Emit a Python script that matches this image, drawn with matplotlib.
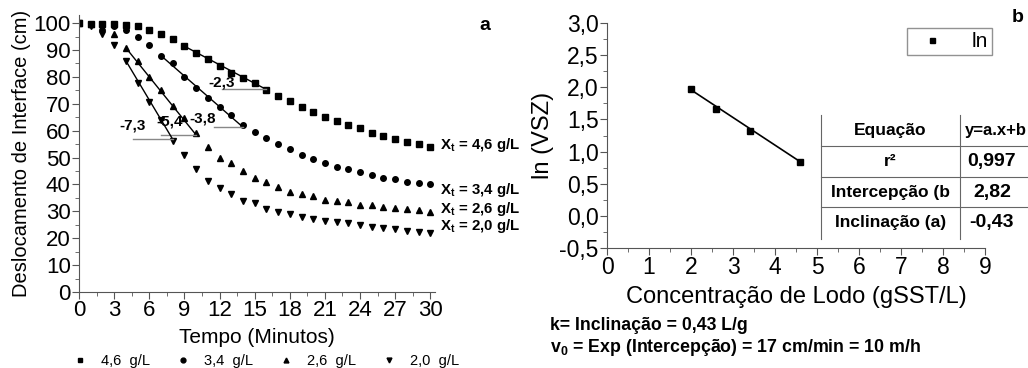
import matplotlib.pyplot as plt
from matplotlib.ticker import MultipleLocator, FixedLocator, FuncFormatter
from matplotlib.lines import Line2D

plt.rcParams['font.family'] = 'Liberation Sans'
plt.rcParams['mathtext.fontset'] = 'custom'
plt.rcParams['mathtext.rm'] = 'Liberation Sans'
plt.rcParams['mathtext.bf'] = 'Liberation Sans:bold'

# ---------------- data (a) : interface height vs time ----------------
tempo = list(range(0, 31))
x46 = [100, 99.8, 99.6, 99.6, 99.3, 98.9, 97.4, 95.8, 93.9, 91.4, 89.0, 86.5, 84.0, 81.5, 79.7, 77.6,
       75.0, 72.9, 71.0, 68.9, 67.0, 65.2, 63.4, 62.0, 61.0, 59.0, 58.0, 57.0, 55.9, 54.9, 53.9]
x34 = [100, 99.6, 99.6, 99.0, 97.6, 94.9, 92.0, 87.9, 85.3, 80.0, 76.0, 72.0, 68.7, 65.8, 62.0, 59.6,
       57.4, 55.0, 53.2, 50.9, 49.4, 48.0, 46.6, 45.6, 44.5, 43.5, 42.5, 41.9, 41.0, 40.6, 40.1]
x26 = [100, 99.5, 98.5, 95.8, 90.8, 85.9, 80.0, 75.0, 69.0, 64.6, 59.0, 54.0, 50.0, 47.8, 45.0, 42.3,
       40.8, 38.9, 37.3, 36.4, 35.8, 34.2, 33.8, 33.3, 32.3, 32.3, 31.7, 31.4, 30.9, 30.5, 29.9]
x20 = [100, 99.0, 96.0, 91.8, 86.0, 77.6, 70.8, 64.0, 56.3, 51.0, 45.6, 41.3, 38.8, 36.4, 33.9, 33.0,
       30.9, 29.9, 29.0, 28.0, 27.0, 26.4, 26.1, 25.5, 24.9, 24.3, 23.9, 23.3, 22.8, 22.4, 21.8]
series = [x46, x34, x26, x20]
legend_txt = ['4,6  g/L', '3,4  g/L', '2,6  g/L', '2,0  g/L']
end_txt = ['4,6 g/L', '3,4 g/L', '2,6 g/L', '2,0 g/L']
markers = ['s', 'o', '^', 'v']

# slope fits: start, end, slope, base start, label
fit_start = [9, 7, 4, 4]
fit_end = [16, 14, 10, 8]
fit_slope = [-2.3, -3.8, -5.4, -7.3]
base_start = [12.2, 11.5, 7.0, 4.6]
slope_txt = ['-2,3', '-3,8', '-5,4', '-7,3']

# ---------------- data (b) : ln(VSZ) vs concentration ----------------
conc = [2.0, 2.6, 3.4, 4.6]
ln_vsz = [1.98, 1.66, 1.32, 0.84]
intercept = 2.82
slope = -0.43
tab_labels = ['Equação', 'r²', 'Intercepção (b', 'Inclinação (a)']
tab_values = ['y=a.x+b', '0,997', '2,82', '-0,43']

W, H = 1028, 368
fig = plt.figure(figsize=(W / 100, H / 100), dpi=100)

def fx(px):
    return px / W

def fy(py):
    return 1 - py / H

spine_c = '#555555'

"""************************* (a) ***************************"""
ax1 = fig.add_axes([fx(79), fy(292), fx(435 - 79), (292 - 15) / H])
sizes = [3.8, 4.0, 4.8, 4.8]
for s, m, lab, ms in zip(series, markers, legend_txt, sizes):
    ax1.plot(tempo, s, linestyle='none', marker=m, color='k', markersize=ms, label=lab)

for s, t0, t1, k, b0, txt in zip(series, fit_start, fit_end, fit_slope, base_start, slope_txt):
    y0 = s[t0]
    y1 = y0 + k * (t1 - t0)
    ax1.plot([t0, t1], [y0, y1], color='k', lw=1)
    ax1.plot([b0, t1], [y1, y1], color='#888888', lw=1)

ax1.text(12.2, 78, '-2,3', fontsize=11, fontweight='bold', ha='center', va='center')
ax1.text(10.55, 64.5, '-3,8', fontsize=11, fontweight='bold', ha='center', va='center')
ax1.text(7.7, 63.3, '-5,4', fontsize=11, fontweight='bold', ha='center', va='center')
ax1.text(4.55, 62, '-7,3', fontsize=11, fontweight='bold', ha='center', va='center')

end_y = [54.6, 37.9, 30.9, 24.5]
for yy, txt in zip(end_y, end_txt):
    ax1.text(30.85, yy, r'X$_\mathbf{t}$ = ' + txt, fontsize=10.8, fontweight='bold',
             ha='left', va='center')

ax1.set_xlim(0, 30.4)
ax1.set_ylim(0, 103)
ax1.set_xticks(range(0, 31, 3))
ax1.set_yticks(range(0, 101, 10))
ax1.xaxis.set_minor_locator(MultipleLocator(1.5))
ax1.yaxis.set_minor_locator(MultipleLocator(5))
ax1.tick_params(which='major', direction='out', length=5, color=spine_c, labelsize=16, pad=1)
ax1.tick_params(which='minor', direction='out', length=3, color=spine_c)
for sp in ['top', 'right']:
    ax1.spines[sp].set_visible(False)
for sp in ['left', 'bottom']:
    ax1.spines[sp].set_color(spine_c)
ax1.set_xlabel('Tempo (Minutos)', fontsize=15, labelpad=5)
ax1.set_ylabel('Deslocamento de Interface (cm)', fontsize=14.5, labelpad=2)

hs = [Line2D([], [], linestyle='none', marker=m, color='k', markersize=3.5) for m in markers]
ax1.legend(hs, legend_txt, loc='center', bbox_to_anchor=(fx(266), fy(361)),
           bbox_transform=fig.transFigure, ncol=4, frameon=False, fontsize=10.5,
           handlelength=1, handletextpad=0.9, columnspacing=1.8, borderpad=0)

fig.text(fx(485), fy(25), 'a', fontsize=14, fontweight='bold', ha='center', va='center')

"""************************* (b) ***************************"""
ax2 = fig.add_axes([fx(607), fy(248), fx(985 - 607), (248 - 23) / H])
ax2.plot(conc, ln_vsz, linestyle='none', marker='s', color='k', markersize=4.5, label='ln')
ax2.plot([conc[0], conc[-1]], [intercept + slope * conc[0], intercept + slope * conc[-1]],
         color='k', lw=1.2)
ax2.set_xlim(0, 9)
ax2.set_ylim(-0.5, 3.0)
ax2.set_xticks(range(0, 10))
ax2.yaxis.set_major_locator(FixedLocator([-0.5, 0, 0.5, 1.0, 1.5, 2.0, 2.5, 3.0]))
ax2.yaxis.set_major_formatter(FuncFormatter(lambda v, p: ('%.1f' % v).replace('.', ',')))
ax2.xaxis.set_minor_locator(MultipleLocator(0.5))
ax2.yaxis.set_minor_locator(MultipleLocator(0.25))
ax2.tick_params(which='major', direction='out', length=5, color=spine_c, labelsize=16.5, pad=1)
ax2.tick_params(which='minor', direction='out', length=3, color=spine_c)
for sp in ['top', 'right']:
    ax2.spines[sp].set_visible(False)
for sp in ['left', 'bottom']:
    ax2.spines[sp].set_color(spine_c)
ax2.set_xlabel('Concentração de Lodo (gSST/L)', fontsize=17, labelpad=5)
ax2.set_ylabel('ln (VSZ)', fontsize=17, labelpad=4)
ax2.legend(loc='upper left', bbox_to_anchor=(fx(907), fy(28)), bbox_transform=fig.transFigure,
           fancybox=False, edgecolor='#777777', fontsize=15, markerscale=0.8,
           handlelength=2.0, borderpad=0.2, handletextpad=0.9, borderaxespad=0)

fig.text(fx(1018), fy(18), 'b', fontsize=14, fontweight='bold', ha='center', va='center')

# parameter table
rows = [115, 146, 177, 207, 239]
tl, tm = 821, 960
fig.add_artist(Line2D([fx(tl), fx(tl)], [fy(rows[0]), fy(rows[-1])], color='#666666', lw=0.8))
fig.add_artist(Line2D([fx(tm), fx(tm)], [fy(rows[0]), fy(rows[-1])], color='#666666', lw=0.8))
for r in rows[1:-1]:
    fig.add_artist(Line2D([fx(tl), 1], [fy(r), fy(r)], color='#666666', lw=0.8))
for i, (lab, val) in enumerate(zip(tab_labels, tab_values)):
    yc = (rows[i] + rows[i + 1]) / 2
    fig.text(fx((tl + tm) / 2), fy(yc), lab, fontsize=12.5, fontweight='bold',
             ha='center', va='center')
    if i == 0:
        fig.text(fx(965), fy(yc), val, fontsize=12, fontweight='bold', ha='left', va='center')
    else:
        fig.text(fx(992), fy(yc), val, fontsize=14, fontweight='bold', ha='center', va='center')

fig.text(fx(550), fy(326), 'k= Inclinação = 0,43 L/g', fontsize=12.7, fontweight='bold',
         ha='left', va='center')
fig.text(fx(550), fy(347), r'v$_\mathbf{0}$ = Exp (Intercepção) = 17 cm/min = 10 m/h',
         fontsize=12.8, fontweight='bold', ha='left', va='center')

fig.savefig('out.png', dpi=100)
